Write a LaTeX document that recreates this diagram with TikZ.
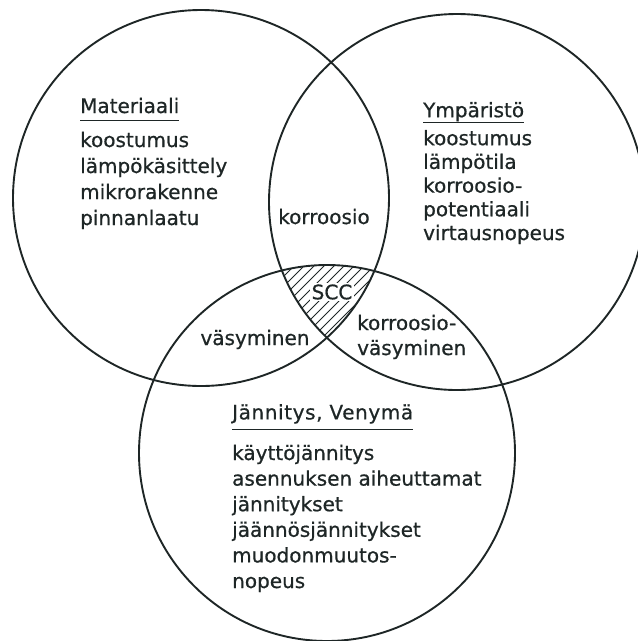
\documentclass[tikz,border=0pt]{standalone}
\usepackage{fontspec}
\setmainfont{DejaVu Sans}[FakeBold=0.7]
\newcommand\ulin[2]{\setbox0\hbox{#2}\rlap{\rule[-#1]{\wd0}{1.1pt}}\box0}
\definecolor{ink}{HTML}{1E2626}
\begin{document}
\begin{tikzpicture}[x=1pt,y=-1pt,
  ring/.style={draw=ink,line width=1.9pt},
  hatch/.style={draw=ink,line width=0.9pt},
  txt/.style={text=ink,inner sep=0pt,align=left,anchor=base west},
  lbl/.style={text=ink,inner sep=0pt,font=\fontsize{20}{24}\selectfont}]
\useasboundingbox (0,0) rectangle (638,641);
\clip (0,0) rectangle (638,641);
\def\Lc{(201,198) circle[radius=188pt]}
\def\Rc{(457,202) circle[radius=188pt]}
\def\Bc{(327,453) circle[radius=188pt]}
% hatched triple intersection
\begin{scope}
  \clip \Lc; \clip \Rc; \clip \Bc;
  \foreach \k in {-16,...,14} {
    \draw[hatch] (230+\k*10,370) -- (350+\k*10,250);
  }
\end{scope}
\draw[ring] \Lc;
\draw[ring] \Rc;
\draw[ring] \Bc;
% texts (base anchor = baseline of the last line)
\node[txt,font=\fontsize{20}{26}\selectfont] (mat) at (80,225)
  {\ulin{8pt}{Materiaali}\\[8pt]koostumus\\lämpökäsittely\\mikrorakenne\\pinnanlaatu};
\node[txt,font=\fontsize{20}{23.7}\selectfont] (ymp) at (423,240)
  {\ulin{6pt}{Ympäristö}\\[4.3pt]koostumus\\lämpötila\\korroosio-\\potentiaali\\virtausnopeus};
\node[txt,font=\fontsize{20}{25.6}\selectfont] (jan) at (232,588)
  {\ulin{11pt}{\addfontfeatures{LetterSpace=3}Jännitys, Venymä}\\[13.4pt]käyttöjännitys\\asennuksen aiheuttamat\\jännitykset\\jäännösjännitykset\\muodonmuutos-\\nopeus};
\node[lbl,anchor=base] (kor) at (324,224) {korroosio};
\node[lbl,anchor=base] (vas) at (255,345) {väsyminen};
\node[lbl,anchor=base west,align=left,font=\fontsize{20}{25}\selectfont] (kv) at (357,355) {korroosio-\\väsyminen};
\node[lbl,fill=white,inner sep=1.5pt] (scc) at (332,292) {SCC};
\end{tikzpicture}
\end{document}
